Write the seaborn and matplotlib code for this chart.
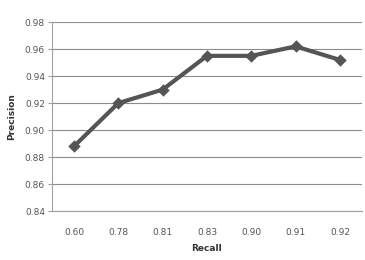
import matplotlib
matplotlib.use("Agg")
import matplotlib.pyplot as plt
import seaborn as sns
import pandas as pd

recall = ["0.60", "0.78", "0.81", "0.83", "0.90", "0.91", "0.92"]
precision = [0.888, 0.920, 0.930, 0.955, 0.955, 0.962, 0.952]
yticks = [0.84, 0.86, 0.88, 0.90, 0.92, 0.94, 0.96, 0.98]

df = pd.DataFrame({"Recall": recall, "Precision": precision})

sns.set_style("white")
plt.rcParams['font.family'] = ['DejaVu Sans']

fig = plt.figure(figsize=(3.65, 2.6), dpi=100)
ax = fig.add_axes([0.142, 0.188, 0.850, 0.727])

sns.pointplot(data=df, x="Recall", y="Precision", ax=ax, color="#555555",
              markers="D", linestyles="-", markersize=4.2, linewidth=3.0,
              order=recall)

ax.set_ylim(0.84, 0.98)
ax.set_yticks(yticks)
ax.set_yticklabels([f"{v:.2f}" for v in yticks])
ax.set_xlim(-0.5, len(recall) - 0.5)
ax.grid(axis="y", color="#8c8c8c", linewidth=0.8)
ax.set_axisbelow(True)
for s in ["top", "right"]:
    ax.spines[s].set_visible(False)
ax.spines["left"].set_color("#a0a0a0")
ax.spines["bottom"].set_color("#a0a0a0")
ax.spines["left"].set_linewidth(0.8)
ax.spines["bottom"].set_linewidth(0.8)
ax.tick_params(axis="y", which="both", left=True, length=3, width=0.8,
               color="#a0a0a0", labelsize=6.5, labelcolor="#555555", pad=2)
ax.tick_params(axis="x", bottom=False, labelsize=6.5, labelcolor="#555555", pad=9)
ax.set_xlabel("Recall", fontsize=6.5, fontweight="bold", color="#333333", labelpad=5)
ax.set_ylabel("Precision", fontsize=6.5, fontweight="bold", color="#333333", labelpad=6)

fig.savefig("out.png", dpi=100)
